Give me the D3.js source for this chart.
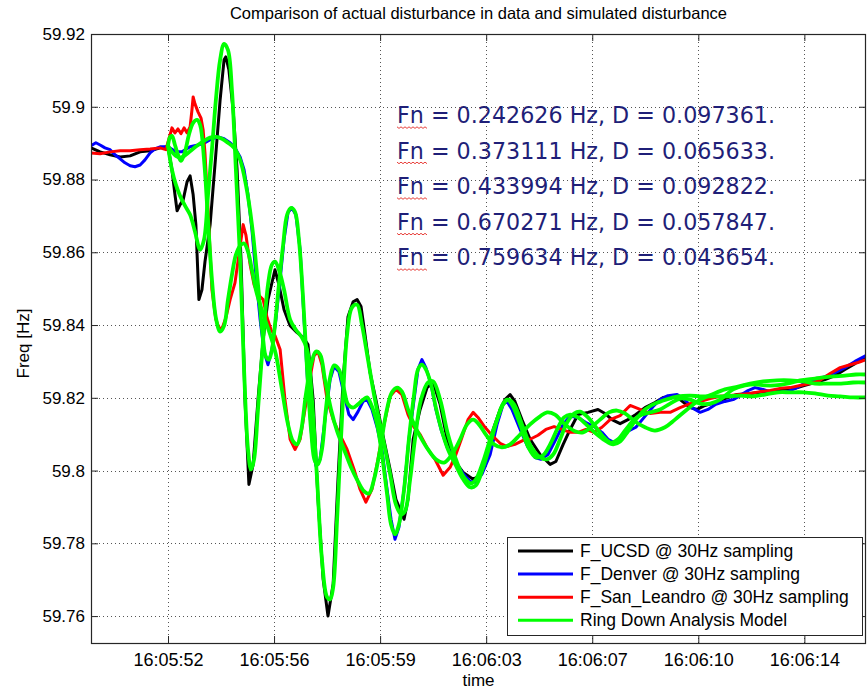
<!DOCTYPE html>
<html>
<head>
<meta charset="utf-8">
<script src="https://cdn.jsdelivr.net/npm/d3@7"></script>
<style>
  html, body { margin: 0; padding: 0; background: #fff; }
  svg { display: block; }
</style>
</head>
<body>
<script>
// ---------------- DATA (time = seconds after 16:05:00, freq in Hz) ----------------
const xTickValues = [52, 55.5, 59, 62.5, 66, 69.5, 73];
const xTickLabels = ["16:05:52", "16:05:56", "16:05:59", "16:06:03", "16:06:07", "16:06:10", "16:06:14"];
const yTickValues = [59.76, 59.78, 59.80, 59.82, 59.84, 59.86, 59.88, 59.90, 59.92];
const xDomain = [49.459, 75.034];
const yDomain = [59.7526, 59.92];

const ucsd = [[49.46,59.8887],[49.76,59.8876],[50.09,59.8868],[50.42,59.8862],[50.75,59.8865],[51.08,59.8876],[51.41,59.8879],[51.74,59.8887],[52.00,59.8890],[52.13,59.8827],[52.23,59.8758],[52.30,59.8714],[52.40,59.8731],[52.50,59.8744],[52.63,59.8794],[52.73,59.8810],[52.83,59.8758],[52.92,59.8676],[53.02,59.8470],[53.12,59.8497],[53.22,59.8574],[53.39,59.8676],[53.55,59.8840],[53.72,59.9019],[53.85,59.9129],[53.91,59.9137],[54.01,59.9101],[54.15,59.8991],[54.28,59.8827],[54.41,59.8580],[54.54,59.8195],[54.67,59.7962],[54.81,59.8017],[54.97,59.8195],[55.14,59.8360],[55.30,59.8470],[55.53,59.8552],[55.66,59.8511],[55.83,59.8442],[56.03,59.8398],[56.26,59.8379],[56.46,59.8366],[56.62,59.8346],[56.79,59.8195],[56.95,59.7921],[57.12,59.7701],[57.28,59.7600],[57.45,59.7688],[57.61,59.7976],[57.78,59.8250],[57.94,59.8423],[58.11,59.8464],[58.24,59.8470],[58.37,59.8451],[58.50,59.8374],[58.67,59.8269],[58.86,59.8195],[59.10,59.8094],[59.33,59.8003],[59.52,59.7921],[59.66,59.7893],[59.79,59.7866],[59.92,59.7921],[60.09,59.8086],[60.32,59.8168],[60.55,59.8228],[60.75,59.8242],[60.98,59.8182],[61.21,59.8086],[61.47,59.8025],[61.74,59.7995],[62.07,59.7976],[62.30,59.7987],[62.53,59.8036],[62.73,59.8113],[62.96,59.8168],[63.12,59.8195],[63.29,59.8209],[63.45,59.8190],[63.68,59.8140],[63.95,59.8086],[64.28,59.8044],[64.61,59.8017],[64.80,59.8025],[65.04,59.8072],[65.27,59.8113],[65.53,59.8154],[65.86,59.8160],[66.19,59.8168],[66.42,59.8157],[66.65,59.8140],[66.92,59.8129],[67.18,59.8140],[67.44,59.8154],[67.74,59.8173],[68.07,59.8187],[68.34,59.8201],[68.63,59.8204],[68.90,59.8195],[69.23,59.8173],[69.46,59.8168],[69.72,59.8179],[70.05,59.8187],[70.38,59.8198],[70.78,59.8209],[71.21,59.8212],[71.70,59.8217],[72.20,59.8223],[72.69,59.8226],[73.02,59.8234],[73.35,59.8242],[73.68,59.8250],[74.01,59.8261],[74.34,59.8278],[74.67,59.8294],[75.03,59.8313]];

const denver = [[49.46,59.8893],[49.62,59.8901],[49.76,59.8895],[49.92,59.8887],[50.09,59.8882],[50.25,59.8868],[50.42,59.8857],[50.58,59.8846],[50.75,59.8838],[50.91,59.8835],[51.08,59.8840],[51.24,59.8854],[51.41,59.8873],[51.57,59.8884],[51.74,59.8890],[52.00,59.8890],[52.26,59.8876],[52.46,59.8876],[52.73,59.8890],[52.99,59.8895],[53.22,59.8901],[53.45,59.8912],[53.65,59.8917],[53.85,59.8912],[54.05,59.8901],[54.21,59.8887],[54.38,59.8862],[54.51,59.8827],[54.64,59.8758],[54.77,59.8662],[54.90,59.8538],[55.04,59.8415],[55.17,59.8327],[55.30,59.8291],[55.43,59.8333],[55.56,59.8415],[55.70,59.8525],[55.83,59.8635],[55.96,59.8709],[56.09,59.8722],[56.22,59.8703],[56.36,59.8607],[56.49,59.8415],[56.62,59.8223],[56.75,59.8086],[56.88,59.8014],[57.02,59.8031],[57.18,59.8140],[57.35,59.8250],[57.48,59.8286],[57.64,59.8272],[57.81,59.8209],[57.97,59.8154],[58.11,59.8140],[58.27,59.8162],[58.44,59.8190],[58.57,59.8195],[58.73,59.8168],[58.90,59.8119],[59.06,59.8058],[59.23,59.7948],[59.36,59.7866],[59.49,59.7811],[59.62,59.7844],[59.79,59.7948],[59.95,59.8086],[60.12,59.8195],[60.25,59.8278],[60.38,59.8305],[60.51,59.8283],[60.68,59.8237],[60.84,59.8168],[61.01,59.8113],[61.21,59.8064],[61.47,59.8025],[61.74,59.7992],[61.97,59.7970],[62.16,59.7968],[62.36,59.7990],[62.63,59.8044],[62.86,59.8127],[63.06,59.8182],[63.19,59.8190],[63.35,59.8168],[63.62,59.8113],[63.88,59.8064],[64.11,59.8036],[64.31,59.8031],[64.54,59.8044],[64.80,59.8086],[65.04,59.8127],[65.27,59.8149],[65.53,59.8146],[65.79,59.8132],[66.06,59.8121],[66.32,59.8105],[66.52,59.8086],[66.72,59.8077],[66.92,59.8086],[67.18,59.8108],[67.44,59.8119],[67.74,59.8149],[68.01,59.8176],[68.24,59.8195],[68.50,59.8206],[68.80,59.8209],[69.06,59.8195],[69.29,59.8173],[69.56,59.8160],[69.82,59.8168],[70.08,59.8182],[70.38,59.8190],[70.65,59.8195],[70.88,59.8206],[71.14,59.8220],[71.37,59.8228],[71.64,59.8223],[71.93,59.8215],[72.20,59.8215],[72.46,59.8217],[72.76,59.8228],[73.05,59.8242],[73.35,59.8250],[73.68,59.8258],[74.01,59.8269],[74.34,59.8283],[74.67,59.8300],[75.03,59.8316]];

const sanLeandro = [[49.46,59.8873],[49.76,59.8871],[50.09,59.8876],[50.42,59.8879],[50.75,59.8879],[51.08,59.8882],[51.41,59.8884],[51.74,59.8887],[51.93,59.8882],[52.07,59.8923],[52.13,59.8942],[52.23,59.8928],[52.33,59.8939],[52.43,59.8926],[52.53,59.8942],[52.63,59.8928],[52.73,59.8945],[52.79,59.8991],[52.83,59.9027],[52.89,59.9008],[52.99,59.8986],[53.09,59.8969],[53.16,59.8936],[53.22,59.8873],[53.32,59.8717],[53.45,59.8497],[53.58,59.8415],[53.68,59.8393],[53.78,59.8390],[53.91,59.8420],[54.05,59.8470],[54.21,59.8516],[54.34,59.8593],[54.48,59.8676],[54.57,59.8648],[54.71,59.8566],[54.84,59.8511],[54.97,59.8484],[55.14,59.8470],[55.27,59.8420],[55.40,59.8387],[55.53,59.8371],[55.70,59.8333],[55.86,59.8195],[56.03,59.8086],[56.19,59.8058],[56.36,59.8086],[56.52,59.8168],[56.69,59.8256],[56.82,59.8316],[56.95,59.8327],[57.08,59.8291],[57.25,59.8195],[57.45,59.8140],[57.68,59.8097],[57.91,59.8058],[58.14,59.8003],[58.34,59.7948],[58.53,59.7913],[58.73,59.7948],[58.93,59.8031],[59.13,59.8127],[59.33,59.8204],[59.52,59.8223],[59.72,59.8209],[59.92,59.8154],[60.12,59.8119],[60.32,59.8099],[60.58,59.8058],[60.81,59.8031],[61.08,59.7987],[61.31,59.8009],[61.50,59.8044],[61.70,59.8091],[61.90,59.8140],[62.07,59.8160],[62.23,59.8146],[62.46,59.8119],[62.69,59.8097],[62.96,59.8075],[63.19,59.8066],[63.45,59.8072],[63.72,59.8083],[63.95,59.8086],[64.21,59.8097],[64.47,59.8113],[64.74,59.8121],[65.00,59.8113],[65.27,59.8105],[65.53,59.8105],[65.79,59.8113],[66.06,59.8105],[66.32,59.8119],[66.59,59.8140],[66.92,59.8151],[67.25,59.8179],[67.58,59.8168],[67.91,59.8157],[68.24,59.8160],[68.57,59.8160],[68.90,59.8173],[69.23,59.8184],[69.56,59.8190],[69.89,59.8198],[70.22,59.8204],[70.55,59.8206],[70.88,59.8209],[71.21,59.8212],[71.54,59.8217],[71.87,59.8220],[72.20,59.8226],[72.53,59.8228],[72.86,59.8234],[73.19,59.8239],[73.52,59.8248],[73.85,59.8267],[74.18,59.8283],[74.51,59.8291],[74.77,59.8297],[75.03,59.8305]];

const modelUcsd = [[52.00,59.8893],[52.13,59.8827],[52.26,59.8786],[52.40,59.8755],[52.56,59.8728],[52.73,59.8703],[52.89,59.8657],[53.06,59.8607],[53.19,59.8635],[53.32,59.8758],[53.45,59.8882],[53.58,59.9019],[53.72,59.9129],[53.85,59.9173],[53.98,59.9156],[54.11,59.9046],[54.24,59.8827],[54.38,59.8580],[54.51,59.8278],[54.64,59.8058],[54.74,59.8003],[54.84,59.8031],[54.97,59.8168],[55.14,59.8360],[55.30,59.8511],[55.43,59.8566],[55.53,59.8574],[55.66,59.8552],[55.83,59.8497],[56.03,59.8415],[56.22,59.8387],[56.42,59.8366],[56.59,59.8333],[56.75,59.8195],[56.92,59.7976],[57.08,59.7756],[57.25,59.7652],[57.35,59.7646],[57.45,59.7679],[57.58,59.7866],[57.74,59.8140],[57.91,59.8374],[58.07,59.8448],[58.24,59.8456],[58.40,59.8401],[58.60,59.8305],[58.83,59.8195],[59.10,59.8086],[59.33,59.7990],[59.52,59.7907],[59.69,59.7880],[59.82,59.7888],[59.99,59.7976],[60.15,59.8086],[60.35,59.8195],[60.58,59.8242],[60.75,59.8245],[60.98,59.8195],[61.24,59.8099],[61.50,59.8031],[61.77,59.7981],[62.00,59.7965],[62.16,59.7976],[62.40,59.8025],[62.63,59.8086],[62.86,59.8140],[63.06,59.8182],[63.22,59.8195],[63.42,59.8182],[63.68,59.8127],[63.98,59.8066],[64.28,59.8036],[64.51,59.8031],[64.71,59.8044],[64.94,59.8086],[65.17,59.8132],[65.40,59.8157],[65.60,59.8162],[65.86,59.8146],[66.12,59.8119],[66.39,59.8091],[66.62,59.8077],[66.85,59.8086],[67.11,59.8113],[67.38,59.8140],[67.64,59.8154],[67.91,59.8160],[68.24,59.8168],[68.57,59.8184],[68.90,59.8198],[69.23,59.8195],[69.56,59.8184],[69.89,59.8184],[70.22,59.8195],[70.65,59.8223],[71.04,59.8234],[71.37,59.8237],[71.70,59.8234],[72.03,59.8234],[72.43,59.8239],[72.86,59.8248],[73.35,59.8253],[73.85,59.8258],[74.34,59.8261],[74.70,59.8264],[75.03,59.8264]];

const modelDenver = [[52.00,59.8893],[52.13,59.8876],[52.26,59.8865],[52.40,59.8860],[52.59,59.8868],[52.79,59.8882],[52.99,59.8895],[53.19,59.8906],[53.39,59.8915],[53.58,59.8917],[53.78,59.8912],[53.98,59.8901],[54.18,59.8887],[54.38,59.8854],[54.57,59.8786],[54.77,59.8676],[54.97,59.8511],[55.14,59.8360],[55.23,59.8313],[55.33,59.8305],[55.43,59.8333],[55.53,59.8401],[55.66,59.8511],[55.80,59.8621],[55.93,59.8703],[56.06,59.8722],[56.19,59.8711],[56.32,59.8635],[56.46,59.8470],[56.59,59.8278],[56.72,59.8113],[56.85,59.8025],[56.95,59.8017],[57.08,59.8058],[57.21,59.8168],[57.35,59.8256],[57.48,59.8289],[57.64,59.8278],[57.81,59.8223],[57.94,59.8182],[58.11,59.8173],[58.27,59.8182],[58.44,59.8195],[58.57,59.8201],[58.73,59.8176],[58.90,59.8127],[59.06,59.8044],[59.23,59.7935],[59.36,59.7852],[59.49,59.7825],[59.62,59.7852],[59.79,59.7948],[59.95,59.8086],[60.12,59.8209],[60.25,59.8278],[60.38,59.8291],[60.51,59.8278],[60.68,59.8237],[60.84,59.8173],[61.04,59.8108],[61.24,59.8058],[61.50,59.8014],[61.74,59.7976],[61.97,59.7954],[62.16,59.7959],[62.40,59.8009],[62.63,59.8072],[62.86,59.8140],[63.06,59.8184],[63.19,59.8195],[63.35,59.8182],[63.62,59.8127],[63.88,59.8066],[64.14,59.8036],[64.38,59.8042],[64.61,59.8072],[64.84,59.8113],[65.07,59.8146],[65.27,59.8154],[65.53,59.8146],[65.83,59.8124],[66.12,59.8102],[66.42,59.8083],[66.69,59.8072],[66.92,59.8080],[67.18,59.8108],[67.44,59.8140],[67.74,59.8168],[68.07,59.8184],[68.43,59.8195],[68.83,59.8204],[69.23,59.8206],[69.56,59.8204],[69.95,59.8204],[70.38,59.8204],[70.88,59.8206],[71.31,59.8204],[71.70,59.8209],[72.13,59.8215],[72.53,59.8215],[72.96,59.8215],[73.35,59.8212],[73.78,59.8206],[74.18,59.8204],[74.61,59.8201],[75.03,59.8201]];

const modelSanLeandro = [[52.00,59.8893],[52.07,59.8917],[52.13,59.8920],[52.23,59.8895],[52.33,59.8868],[52.43,59.8851],[52.56,59.8876],[52.69,59.8923],[52.83,59.8956],[52.96,59.8964],[53.06,59.8950],[53.19,59.8854],[53.32,59.8689],[53.45,59.8525],[53.58,59.8420],[53.72,59.8382],[53.85,59.8398],[53.98,59.8470],[54.11,59.8538],[54.24,59.8593],[54.38,59.8618],[54.51,59.8624],[54.64,59.8602],[54.77,59.8552],[54.90,59.8497],[55.04,59.8456],[55.20,59.8415],[55.37,59.8374],[55.56,59.8319],[55.76,59.8223],[55.96,59.8127],[56.13,59.8080],[56.26,59.8072],[56.39,59.8108],[56.55,59.8209],[56.72,59.8291],[56.88,59.8327],[57.02,59.8319],[57.18,59.8250],[57.38,59.8168],[57.58,59.8108],[57.81,59.8058],[58.04,59.8009],[58.27,59.7970],[58.47,59.7943],[58.63,59.7937],[58.80,59.7976],[59.00,59.8058],[59.19,59.8154],[59.39,59.8215],[59.56,59.8228],[59.72,59.8217],[59.92,59.8168],[60.12,59.8127],[60.32,59.8094],[60.58,59.8058],[60.84,59.8031],[61.11,59.8022],[61.37,59.8044],[61.64,59.8086],[61.87,59.8127],[62.07,59.8140],[62.26,59.8127],[62.49,59.8099],[62.76,59.8072],[63.02,59.8064],[63.29,59.8072],[63.62,59.8099],[63.95,59.8127],[64.28,59.8149],[64.51,59.8160],[64.77,59.8154],[65.10,59.8127],[65.43,59.8108],[65.70,59.8105],[65.96,59.8119],[66.26,59.8140],[66.55,59.8160],[66.82,59.8165],[67.08,59.8157],[67.41,59.8135],[67.74,59.8119],[68.07,59.8110],[68.40,59.8119],[68.73,59.8140],[69.13,59.8168],[69.56,59.8195],[69.95,59.8209],[70.38,59.8223],[70.81,59.8231],[71.21,59.8239],[71.64,59.8245],[72.10,59.8248],[72.53,59.8248],[72.96,59.8245],[73.35,59.8239],[73.78,59.8239],[74.21,59.8239],[74.61,59.8242],[75.03,59.8242]];

const legendLabels = ["F_UCSD @ 30Hz sampling", "F_Denver @ 30Hz sampling", "F_San_Leandro @ 30Hz sampling", "Ring Down Analysis Model"];
const fnValues = [0.242626, 0.373111, 0.433994, 0.670271, 0.759634];
const dampValues = [0.097361, 0.065633, 0.092822, 0.057847, 0.043654];

// ---------------- LAYOUT ----------------
const W = 868, H = 690;
const L = 91, R = 866, T = 34, B = 643;
const FONT = "'Liberation Sans', Arial, Helvetica, sans-serif";
const colors = { ucsd: "#000000", denver: "#0000ff", san: "#ff0000", model: "#00ff00" };

const svg = d3.select("body").append("svg").attr("width", W).attr("height", H)
  .style("font-family", FONT);

const x = d3.scaleLinear().domain(xDomain).range([L, R]);
const y = d3.scaleLinear().domain(yDomain).range([B, T]);

// grid
const grid = svg.append("g").attr("stroke", "#555").attr("stroke-width", 1).attr("stroke-dasharray", "1,3");
grid.selectAll(".vg").data(xTickValues).join("line")
  .attr("x1", d => Math.round(x(d)) + 0.5).attr("x2", d => Math.round(x(d)) + 0.5)
  .attr("y1", T).attr("y2", B);
grid.selectAll(".hg").data(yTickValues).join("line")
  .attr("y1", d => Math.round(y(d)) + 0.5).attr("y2", d => Math.round(y(d)) + 0.5)
  .attr("x1", L).attr("x2", R);

// lines
svg.append("clipPath").attr("id", "clip").append("rect")
  .attr("x", L).attr("y", T).attr("width", R - L).attr("height", B - T);
const plot = svg.append("g").attr("clip-path", "url(#clip)");
const lineRaw = d3.line().x(d => x(d[0])).y(d => y(d[1]));
const lineSmooth = d3.line().x(d => x(d[0])).y(d => y(d[1])).curve(d3.curveCatmullRom.alpha(0.5));

const series = [
  { data: ucsd, color: colors.ucsd, w: 3, gen: lineRaw },
  { data: denver, color: colors.denver, w: 3, gen: lineRaw },
  { data: sanLeandro, color: colors.san, w: 3, gen: lineRaw },
  { data: modelUcsd, color: colors.model, w: 3.8, gen: lineSmooth },
  { data: modelDenver, color: colors.model, w: 3.8, gen: lineSmooth },
  { data: modelSanLeandro, color: colors.model, w: 3.8, gen: lineSmooth }
];
plot.selectAll("path.s").data(series).join("path")
  .attr("class", "s")
  .attr("d", d => d.gen(d.data))
  .attr("fill", "none")
  .attr("stroke", d => d.color)
  .attr("stroke-width", d => d.w)
  .attr("stroke-linejoin", "round")
  .attr("stroke-linecap", "round");

// axes
const axisColor = "#262626";
function styleAxis(g, fs) {
  g.attr("font-family", FONT).attr("font-size", fs);
  g.select(".domain").remove();
  g.selectAll(".tick line").attr("stroke", axisColor);
  g.selectAll(".tick text").attr("fill", "#000");
}
svg.append("g").attr("transform", `translate(0,${B})`)
  .call(d3.axisBottom(x).tickValues(xTickValues).tickFormat((d, i) => xTickLabels[i])
    .tickSizeInner(-7).tickSizeOuter(0).tickPadding(10))
  .call(g => styleAxis(g, 18));
svg.append("g").attr("transform", `translate(0,${T})`)
  .call(d3.axisTop(x).tickValues(xTickValues).tickFormat("").tickSizeInner(-7).tickSizeOuter(0))
  .call(g => styleAxis(g, 18));
svg.append("g").attr("transform", `translate(${L},0)`)
  .call(d3.axisLeft(y).tickValues(yTickValues).tickFormat(d3.format(".4~g"))
    .tickSizeInner(-7).tickSizeOuter(0).tickPadding(6))
  .call(g => styleAxis(g, 17));
svg.append("g").attr("transform", `translate(${R},0)`)
  .call(d3.axisRight(y).tickValues(yTickValues).tickFormat("").tickSizeInner(-7).tickSizeOuter(0))
  .call(g => styleAxis(g, 17));

// frame
svg.append("rect").attr("x", L + 0.5).attr("y", T + 0.5).attr("width", R - L - 1).attr("height", B - T)
  .attr("fill", "none").attr("stroke", axisColor).attr("stroke-width", 1.2);

// title and axis labels
svg.append("text").attr("x", (L + R) / 2).attr("y", 19).attr("text-anchor", "middle")
  .attr("font-size", 16.5).text("Comparison of actual disturbance in data and simulated disturbance");
svg.append("text").attr("x", (L + R) / 2).attr("y", 686).attr("text-anchor", "middle")
  .attr("font-size", 17).text("time");
svg.append("text").attr("transform", `translate(29,${(T + B) / 2 + 5}) rotate(-90)`).attr("text-anchor", "middle")
  .attr("font-size", 17).text("Freq [Hz]");

// annotation
const ann = svg.append("g");
const baselines = [123.3, 158.6, 194.2, 229.8, 265.3];
fnValues.forEach((fn, i) => {
  const by = baselines[i];
  ann.append("text")
    .attr("x", 397).attr("y", by)
    .attr("font-family", "'DejaVu Sans', Verdana, sans-serif")
    .attr("font-size", 23.5)
    .attr("fill", "#1f1f78")
    .attr("textLength", 378).attr("lengthAdjust", "spacingAndGlyphs")
    .text(`Fn = ${fn.toFixed(6)} Hz, D = ${dampValues[i].toFixed(6)}.`);
  const pts = d3.range(0, 16).map(k => [397 + k * 2, by + 3.8 + (k % 2 ? 1.3 : -0.3)]);
  ann.append("path").attr("d", d3.line()(pts)).attr("fill", "none")
    .attr("stroke", "#e8413c").attr("stroke-width", 1);
});

// legend
const lg = svg.append("g");
lg.append("rect").attr("x", 507.5).attr("y", 537.5).attr("width", 355).attr("height", 98)
  .attr("fill", "#fff").attr("stroke", axisColor).attr("stroke-width", 1);
const legendColors = [colors.ucsd, colors.denver, colors.san, colors.model];
const rows = lg.selectAll("g.row").data(legendLabels).join("g").attr("class", "row")
  .attr("transform", (d, i) => `translate(0,${551 + i * 23.1})`);
rows.append("line").attr("x1", 518).attr("x2", 573).attr("y1", 0).attr("y2", 0)
  .attr("stroke", (d, i) => legendColors[i]).attr("stroke-width", 3);
rows.append("text").attr("x", 580).attr("y", 0).attr("dy", "0.35em")
  .attr("font-size", 17.5).text(d => d);
</script>
</body>
</html>
